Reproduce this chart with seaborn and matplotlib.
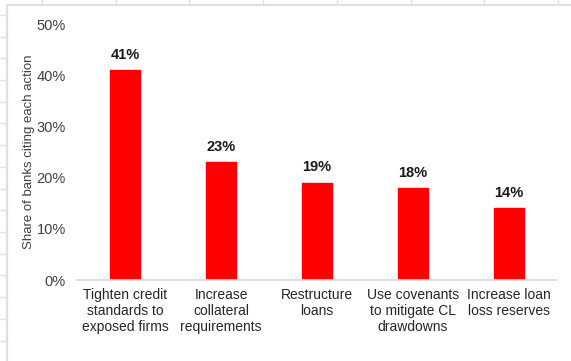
import matplotlib
matplotlib.use("Agg")
import matplotlib.pyplot as plt
from matplotlib.lines import Line2D
from matplotlib.ticker import PercentFormatter
import seaborn as sns
import pandas as pd

categories = [
    "Tighten credit\nstandards to\nexposed firms",
    "Increase\ncollateral\nrequirements",
    "Restructure\nloans",
    "Use covenants\nto mitigate CL\ndrawdowns",
    "Increase loan\nloss reserves",
]
values = [0.41, 0.23, 0.19, 0.18, 0.14]
value_labels = ["41%", "23%", "19%", "18%", "14%"]
y_ticks = [0, 0.1, 0.2, 0.3, 0.4, 0.5]

sns.set_theme(style="white")
plt.rcParams["font.family"] = ["Liberation Sans", "DejaVu Sans"]

W, H = 571, 361
fig = plt.figure(figsize=(W / 100, H / 100), dpi=100)
left, right, bottom, top = 77, 557, 280, 24
ax = fig.add_axes([left / W, 1 - bottom / H, (right - left) / W, (bottom - top) / H])

df = pd.DataFrame({"action": categories, "share": values})
sns.barplot(data=df, x="action", y="share", color="#ff0000", saturation=1,
            width=0.31, ax=ax, edgecolor="#ff0000")

ax.set_ylim(0, 0.5)
ax.set_yticks(y_ticks)
ax.yaxis.set_major_formatter(PercentFormatter(1.0, decimals=0))
ax.set_xlim(-0.5, len(categories) - 0.5)
ax.set_xlabel("")
ax.set_ylabel("Share of banks citing each action", fontsize=9.5, color="#404040")
ax.yaxis.set_label_coords((35 - left) / (right - left), 0.5)
ax.tick_params(axis="y", labelsize=10.5, labelcolor="#404040", length=0, pad=8)
ax.tick_params(axis="x", labelsize=10, labelcolor="#262626", length=0, pad=6)
for lbl in ax.get_xticklabels():
    lbl.set_linespacing(1.15)

for s in ["top", "right", "left"]:
    ax.spines[s].set_visible(False)
ax.spines["bottom"].set_color("#d9d9d9")
ax.spines["bottom"].set_linewidth(1.2)

ax.bar_label(ax.containers[0], labels=value_labels, padding=6,
             fontsize=10.5, fontweight="bold", color="#1a1a1a")

# spreadsheet-like frame
gc = "#e0e0e0"
fx = lambda px: px / W
fy = lambda py: 1 - py / H
fig.add_artist(Line2D([fx(7), fx(7)], [fy(5), fy(361)], color=gc, lw=1.6))
fig.add_artist(Line2D([fx(7), fx(571)], [fy(5), fy(5)], color=gc, lw=1.6))
for i in range(17):
    yy = 15 + i * 21.7
    fig.add_artist(Line2D([fx(0), fx(7)], [fy(yy), fy(yy)], color=gc, lw=1.0))
for i in range(8):
    xx = 42 + i * 73.7
    fig.add_artist(Line2D([fx(xx), fx(xx)], [fy(0), fy(5)], color=gc, lw=1.0))

fig.savefig("out.png", dpi=100)
